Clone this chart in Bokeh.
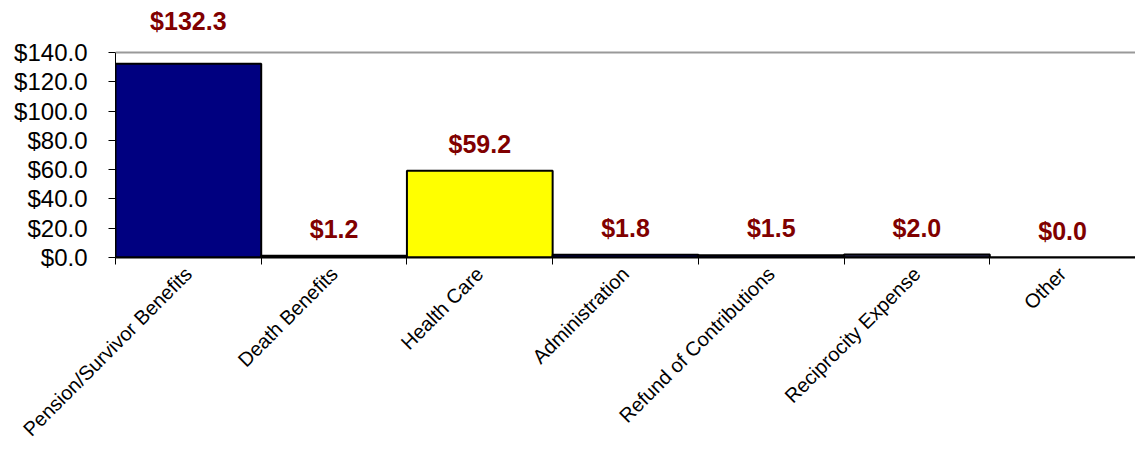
from bokeh.plotting import figure
from bokeh.models import (ColumnDataSource, Range1d, FixedTicker, PrintfTickFormatter,
                          LabelSet, Span)
from bokeh.core.properties import value
from bokeh.embed import file_html
from bokeh.resources import INLINE
import math

categories = ["Pension/Survivor Benefits", "Death Benefits", "Health Care", "Administration",
              "Refund of Contributions", "Reciprocity Expense", "Other"]
values = [132.3, 1.2, 59.2, 1.8, 1.5, 2.0, 0.0]
y_ticks = [0, 20, 40, 60, 80, 100, 120, 140]

bar_colors = ["#000080", "#000080", "#FFFF00", "#000080", "#000080", "#333366", "#000080"]
label_offsets = [29, 13, 13, 13, 13, 13, 13]

centers = [i + 0.5 for i in range(len(categories))]
bounds = list(range(len(categories) + 1))

src = ColumnDataSource(dict(
    x=centers,
    top=values,
    color=bar_colors,
    off=label_offsets,
    label=[f"${v:.1f}" for v in values],
))

p = figure(width=1135, height=457, output_backend="svg", toolbar_location=None,
           x_range=Range1d(0, len(categories)), y_range=Range1d(0, 170),
           min_border_left=115, min_border_right=0, min_border_top=8, min_border_bottom=200)

p.vbar(x="x", top="top", width=1.0, source=src, fill_color="color",
       line_color="black", line_width=2)

p.add_layout(Span(location=140, dimension="width", line_color="#999999", line_width=2))

labels = LabelSet(x="x", y="top", text="label", source=src, text_align="center",
                  text_baseline="bottom", y_offset="off", text_color="#800000",
                  text_font=value("Liberation Sans"), text_font_style="bold",
                  text_font_size="25px")
p.add_layout(labels)

p.xgrid.visible = False
p.ygrid.visible = False
p.outline_line_color = None

# y axis
p.yaxis.bounds = (0, 140)
p.yaxis.ticker = FixedTicker(ticks=y_ticks)
p.yaxis.formatter = PrintfTickFormatter(format="$%.1f")
p.yaxis.major_label_text_font = "Liberation Sans"
p.yaxis.major_label_text_font_size = "24px"
p.yaxis.major_label_text_color = "black"
p.yaxis.major_tick_out = 7
p.yaxis.major_tick_in = 0
p.yaxis.minor_tick_line_color = None
p.yaxis.axis_line_color = "black"
p.yaxis.major_tick_line_color = "black"
p.yaxis.major_label_standoff = 21

# x axis
p.xaxis.ticker = FixedTicker(ticks=centers, minor_ticks=bounds)
p.xaxis.major_label_overrides = {c: name for c, name in zip(centers, categories)}
p.xaxis.major_label_orientation = math.pi / 4
p.xaxis.major_label_text_font = "Liberation Sans"
p.xaxis.major_label_text_font_size = "20px"
p.xaxis.major_label_text_color = "black"
p.xaxis.major_tick_out = 0
p.xaxis.major_tick_in = 0
p.xaxis.minor_tick_out = 7
p.xaxis.minor_tick_in = 0
p.xaxis.minor_tick_line_color = "black"
p.xaxis.axis_line_color = "black"
p.xaxis.axis_line_width = 2
p.xaxis.major_label_standoff = 6

open("out.html", "w").write(file_html(p, INLINE))
